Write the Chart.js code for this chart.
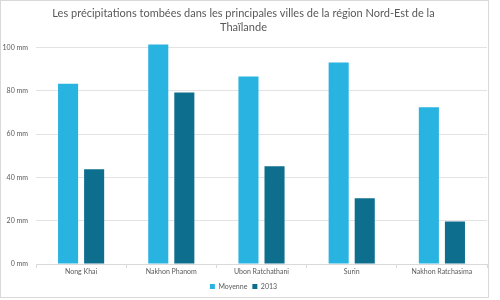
<!DOCTYPE html>
<html>
<head>
<meta charset="utf-8">
<script src="https://cdn.jsdelivr.net/npm/chart.js@4"></script>
<style>
  html, body { margin: 0; padding: 0; background: #fff; }
  #wrap { width: 500px; height: 300px; }
</style>
</head>
<body>
<div id="wrap"><canvas id="myChart" width="500" height="300"></canvas></div>
<script>
// data
var cities = ['Nong Khai', 'Nakhon Phanom', 'Ubon Ratchathani', 'Surin', 'Nakhon Ratchasima'];
var moyenne = [83.3, 101.4, 86.6, 93.1, 72.4];
var annee2013 = [43.8, 79.3, 45.2, 30.4, 19.6];
var yTicks = [0, 20, 40, 60, 80, 100];

var textColor = '#595959';
var fontName = 'Lato, "Open Sans", sans-serif';

// thin frame round the whole chart
var frame = {
  id: 'frame',
  beforeDraw(chart) {
    var c = chart.ctx;
    c.save();
    c.fillStyle = '#fff';
    c.fillRect(0, 0, chart.width, chart.height);
    c.strokeStyle = '#d9d9d9';
    c.lineWidth = 1;
    c.strokeRect(0.5, 0.5, 488, 297);
    c.restore();
  }
};

var ctx = document.getElementById('myChart').getContext('2d');
var myChart = new Chart(ctx, {
  type: 'bar',
  data: {
    labels: cities,
    datasets: [{
      label: 'Moyenne',
      data: moyenne,
      backgroundColor: '#29b3e0',
      clip: false,
      categoryPercentage: 0.578,
      barPercentage: 0.77
    }, {
      label: '2013',
      data: annee2013,
      backgroundColor: '#0e6e8e',
      clip: false,
      categoryPercentage: 0.578,
      barPercentage: 0.77
    }]
  },
  options: {
    responsive: false,
    animation: false,
    layout: { padding: { left: 0, right: 13, top: 4, bottom: 0 } },
    plugins: {
      title: {
        display: true,
        text: ['Les précipitations tombées dans les principales villes de la région Nord-Est de la', 'Thaïlande'],
        color: textColor,
        font: { family: fontName, size: 11, weight: 'normal', lineHeight: 1.3 },
        padding: { top: 2, bottom: 13 }
      },
      legend: {
        position: 'bottom',
        labels: {
          color: textColor,
          font: { family: fontName, size: 7 },
          boxWidth: 5,
          boxHeight: 5,
          padding: 5
        }
      },
      tooltip: { enabled: false }
    },
    scales: {
      x: {
        grid: { offset: true, drawOnChartArea: false, drawTicks: true, tickLength: 4, color: '#d9d9d9' },
        border: { color: '#d9d9d9' },
        ticks: { color: textColor, font: { family: fontName, size: 7 }, maxRotation: 0, padding: 0 },
        afterFit(scale) { scale.height = 14; }
      },
      y: {
        min: 0,
        max: 100,
        afterBuildTicks(scale) { scale.ticks = yTicks.map(v => ({ value: v })); },
        grid: { color: '#e3e3e3', drawTicks: false },
        border: { display: false },
        ticks: {
          color: textColor,
          font: { family: fontName, size: 7 },
          padding: 8,
          callback: v => v + ' mm'
        },
        afterFit(scale) { scale.width = 36; }
      }
    }
  },
  plugins: [frame]
});
</script>
</body>
</html>
